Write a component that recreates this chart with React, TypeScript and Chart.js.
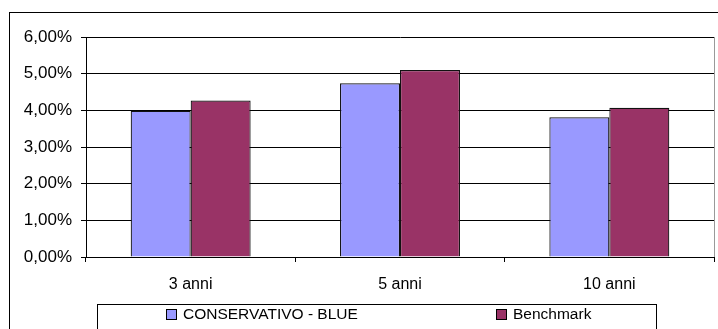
import React, { useEffect, useRef } from "react";
import { Chart, registerables } from "chart.js";

Chart.register(...registerables);

const categories = ["3 anni", "5 anni", "10 anni"];
const seriesNames = ["CONSERVATIVO - BLUE", "Benchmark"];
const conservativoBlue = [3.99, 4.74, 3.81];
const benchmark = [4.27, 5.1, 4.07];
const seriesColors = ["#9999FF", "#993366"];

const FONT = '"Liberation Sans", Arial, sans-serif';

const fmtPct = (v: number) => v.toFixed(2).replace(".", ",") + "%";

// Draws the white page, the outer chart frame, the plot-area right edge and the boxed legend.
const framePlugin = {
  id: "frame",
  beforeDraw(chart: any) {
    const { ctx, width, height } = chart;
    ctx.save();
    ctx.fillStyle = "#ffffff";
    ctx.fillRect(0, 0, width, height);
    ctx.restore();
  },
  afterDraw(chart: any) {
    const { ctx, chartArea } = chart;
    ctx.save();
    ctx.lineWidth = 1;
    // outer frame
    ctx.strokeStyle = "#000000";
    ctx.strokeRect(9.5, 12.5, 760, 400);
    // plot area right edge
    ctx.strokeStyle = "#999999";
    ctx.beginPath();
    ctx.moveTo(Math.round(chartArea.right) + 0.5, chartArea.top);
    ctx.lineTo(Math.round(chartArea.right) + 0.5, chartArea.bottom);
    ctx.stroke();
    // legend box
    const boxLeft = 97.5;
    const boxTop = 304.5;
    ctx.strokeStyle = "#000000";
    ctx.strokeRect(boxLeft, boxTop, 559, 100);
    ctx.font = "15.5px " + FONT;
    ctx.textBaseline = "middle";
    ctx.textAlign = "left";
    const rowY = 314;
    chart.data.datasets.forEach((ds: any, i: number) => {
      const x = 166 + i * 330;
      ctx.fillStyle = ds.backgroundColor;
      ctx.fillRect(x, rowY - 5, 11, 11);
      ctx.strokeStyle = "#000000";
      ctx.strokeRect(x + 0.5, rowY - 5 + 0.5, 10, 10);
      ctx.fillStyle = "#000000";
      ctx.fillText(ds.label, x + 17, rowY + 0.5);
    });
    ctx.restore();
  },
};

export default function App() {
  const canvasRef = useRef<HTMLCanvasElement | null>(null);

  useEffect(() => {
    document.body.style.margin = "0";
    const canvas = canvasRef.current;
    if (!canvas) return;
    const chart = new Chart(canvas, {
      type: "bar",
      data: {
        labels: categories,
        datasets: [
          {
            label: seriesNames[0],
            data: conservativoBlue,
            backgroundColor: seriesColors[0],
            borderColor: "#111111",
            borderWidth: 1.2,
          },
          {
            label: seriesNames[1],
            data: benchmark,
            backgroundColor: seriesColors[1],
            borderColor: "#111111",
            borderWidth: 1.2,
          },
        ],
      },
      options: {
        responsive: false,
        animation: false,
        devicePixelRatio: 1,
        layout: { padding: { top: 37, right: 4, left: 0, bottom: 0 } },
        datasets: {
          bar: { categoryPercentage: 0.573, barPercentage: 1 },
        },
        plugins: {
          legend: { display: false },
          tooltip: { enabled: false },
        },
        scales: {
          x: {
            grid: {
              display: true,
              drawOnChartArea: false,
              offset: true,
              tickLength: 5,
              color: "#000000",
            },
            border: { display: true, color: "#000000" },
            ticks: {
              color: "#000000",
              font: { family: FONT, size: 16 },
              padding: 13,
              maxRotation: 0,
            },
            afterFit: (s: any) => {
              s.height = 72;
            },
          },
          y: {
            min: 0,
            max: 6,
            grid: {
              color: "#000000",
              tickLength: 5,
              drawTicks: true,
            },
            border: { display: true, color: "#000000" },
            ticks: {
              stepSize: 1,
              color: "#000000",
              font: { family: FONT, size: 17 },
              padding: 9,
              callback: (v: any) => fmtPct(Number(v)),
            },
            afterFit: (s: any) => {
              s.width = 86;
            },
          },
        },
      },
      plugins: [framePlugin],
    });
    return () => chart.destroy();
  }, []);

  return (
    <div style={{ position: "absolute", left: 0, top: 0, width: 718, height: 329 }}>
      <canvas ref={canvasRef} width={718} height={329} />
    </div>
  );
}
